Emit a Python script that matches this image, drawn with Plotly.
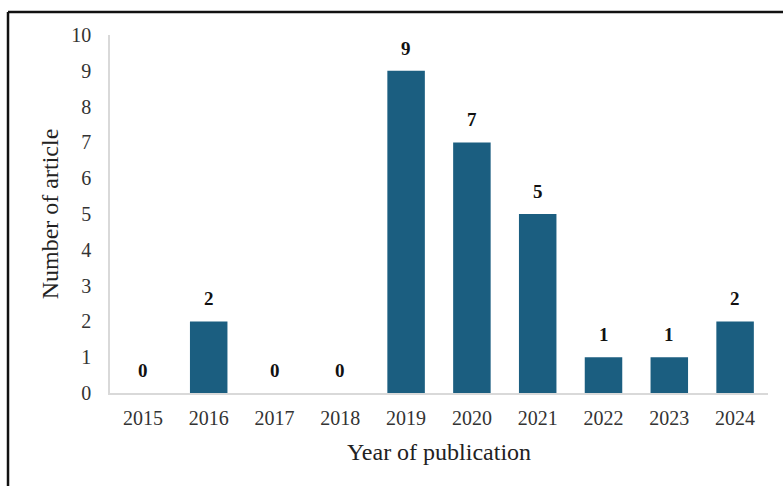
import plotly.graph_objects as go

years = ["2015", "2016", "2017", "2018", "2019", "2020", "2021", "2022", "2023", "2024"]
articles = [0, 2, 0, 0, 9, 7, 5, 1, 1, 2]
y_ticks = list(range(0, 11))

serif = "Liberation Serif, Times New Roman, serif"
bar_color = "#1b5e80"

fig = go.Figure(
    go.Bar(
        x=years,
        y=articles,
        marker=dict(color=bar_color, line=dict(width=0)),
        hoverinfo="x+y",
    )
)

# bold value labels floating above each bar (x given as category index)
for i, v in enumerate(articles):
    fig.add_annotation(
        x=i, y=v, text=f"<b>{v}</b>", showarrow=False,
        yanchor="bottom", yshift=10,
        font=dict(family=serif, size=19, color="#111111"),
    )

fig.update_layout(
    width=783,
    height=486,
    margin=dict(l=110, r=15, t=35, b=93),
    paper_bgcolor="white",
    plot_bgcolor="white",
    bargap=0.43,
    showlegend=False,
    font=dict(family=serif, color="#333333"),
    xaxis=dict(
        type="category",
        categoryorder="array",
        categoryarray=years,
        range=[-0.5, len(years) - 0.5],
        showline=True,
        linecolor="#d9d9d9",
        linewidth=1.5,
        showgrid=False,
        ticks="",
        ticklabelstandoff=6,
        tickfont=dict(family=serif, size=20, color="#333333"),
        title=dict(text="Year of publication", font=dict(family=serif, size=24, color="#222222"), standoff=15),
    ),
    yaxis=dict(
        range=[0, 10],
        tickvals=y_ticks,
        showline=True,
        linecolor="#d9d9d9",
        linewidth=1.5,
        showgrid=False,
        zeroline=False,
        ticks="",
        ticklabelstandoff=13,
        tickfont=dict(family=serif, size=20, color="#333333"),
        title=dict(text="Number of article", font=dict(family=serif, size=24, color="#222222"), standoff=6),
    ),
    shapes=[
        # dark frame along the top and left edges
        dict(type="line", xref="paper", yref="paper", x0=-0.155, x1=1.05, y0=1.064, y1=1.064,
             line=dict(color="#111111", width=2.5)),
        dict(type="line", xref="paper", yref="paper", x0=-0.155, x1=-0.155, y0=1.064, y1=-0.27,
             line=dict(color="#111111", width=2.5)),
    ],
)

fig.write_html("out.html")
